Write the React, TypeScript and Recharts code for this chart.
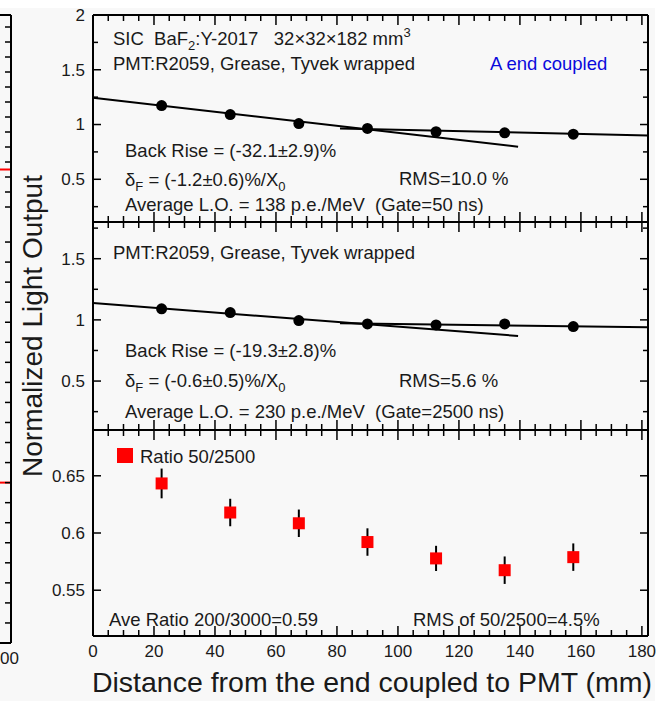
import { ComposedChart, ErrorBar, Line, Scatter, XAxis, YAxis } from "recharts"

// distances from the PMT end (mm)
const positions = [22.5, 45, 67.5, 90, 112.5, 135, 157.5]

// gate 50 ns, normalized light output
const lo50 = [1.173, 1.091, 1.009, 0.964, 0.934, 0.924, 0.912]
// gate 2500 ns
const lo2500 = [1.09, 1.06, 0.994, 0.967, 0.959, 0.967, 0.945]
// ratio 50/2500 and its errors
const ratio = [0.6433, 0.6179, 0.6085, 0.5921, 0.5778, 0.5675, 0.5789]
const ratioErr = [0.013, 0.012, 0.012, 0.012, 0.011, 0.012, 0.012]

// linear fits: front part and back part
const frontFitX = [0, 139.4]
const backFitX = [81, 182]
const front50 = [1.245, 0.797]
const back50 = [0.964, 0.9]
const front2500 = [1.137, 0.869]
const back2500 = [0.973, 0.94]

const xMajor = [0, 20, 40, 60, 80, 100, 120, 140, 160, 180]
const xMinor = [5, 10, 15, 25, 30, 35, 45, 50, 55, 65, 70, 75, 85, 90, 95, 105, 110, 115, 125, 130, 135, 145, 150, 155, 165, 170, 175]
const loMajor = [0.5, 1, 1.5, 2]
const loMinor = [0.25, 0.75, 1.25, 1.75]
const ratioMajor = [0.55, 0.6, 0.65]

// cut-off neighbour chart on the left edge
const fragTopTicks = [0.1, 0.2, 0.3, 0.4, 0.5, 0.6, 0.7, 0.8, 0.9, 1.0, 1.1, 1.2, 1.3]
const fragBottomTicks = [0.1, 0.2, 0.3, 0.4, 0.5, 0.6, 0.7, 0.8, 0.9, 1.0, 1.1, 1.2, 1.3, 1.4, 1.5, 1.6, 1.7, 1.8, 1.9, 2.0]

const pts = (ys: number[]) => positions.map((x, i) => ({ x, y: ys[i] }))
const fit = (xs: number[], ys: number[]) => xs.map((x, i) => ({ x, y: ys[i] }))
const ratioPts = positions.map((x, i) => ({ x, y: ratio[i], err: ratioErr[i] }))

const FONT = "'Liberation Sans', Arial, sans-serif"
const INK = "#1a1a1a"
const X_DOMAIN: [number, number] = [0, 182]
const PLOT_W = 555
const AXIS = { stroke: "#000", strokeWidth: 2 }
const TICK = { stroke: "#000", strokeWidth: 1.5 }

const near = (list: number[], v: number) => list.some((m) => Math.abs(m - v) < 1e-6)

type PanelProps = {
  top: number
  height: number
  domain: [number, number]
  yMajor: number[]
  yMinor: number[]
  xLabels: boolean
  data: any[]
  children: any
}

function Panel({ top, height, domain, yMajor, yMinor, xLabels, data, children }: PanelProps) {
  // bottom axis tick: draws the inward tick at the bottom and the matching one at the top edge
  const xTick = (p: any) => {
    const v = p.payload.value
    const major = near(xMajor, v)
    const len = major ? 10 : 6
    return (
      <g>
        <line x1={p.x} x2={p.x} y1={p.y} y2={p.y - len} {...TICK} />
        <line x1={p.x} x2={p.x} y1={p.y - height} y2={p.y - height + len} {...TICK} />
        {xLabels && major && (
          <text x={p.x} y={p.y + 21} textAnchor="middle" fontSize={17} fill={INK} fontFamily={FONT}>
            {v}
          </text>
        )}
      </g>
    )
  }
  // left axis tick: inward tick on the left edge and the matching one on the right edge
  const yTick = (p: any) => {
    const v = p.payload.value
    const major = near(yMajor, v)
    const len = major ? 8 : 5
    return (
      <g>
        <line x1={p.x} x2={p.x + len} y1={p.y} y2={p.y} {...TICK} />
        <line x1={p.x + PLOT_W} x2={p.x + PLOT_W - len} y1={p.y} y2={p.y} {...TICK} />
        {major && (
          <text x={p.x - 8} y={p.y} dy="0.35em" textAnchor="end" fontSize={17} fill={INK} fontFamily={FONT}>
            {v}
          </text>
        )}
      </g>
    )
  }
  return (
    <div style={{ position: "absolute", left: 0, top: top - 10 }}>
      <ComposedChart width={660} height={height + 40} data={data} margin={{ top: 10, right: 12, bottom: 0, left: 0 }}>
        <XAxis
          dataKey="x"
          type="number"
          domain={X_DOMAIN}
          ticks={[...xMajor, ...xMinor]}
          interval={0}
          height={30}
          tickSize={0}
          tickMargin={0}
          tickLine={false}
          axisLine={AXIS}
          tick={xTick}
        />
        <XAxis xAxisId="t" orientation="top" mirror type="number" domain={X_DOMAIN} height={1}
          tick={false} tickLine={false} axisLine={AXIS} />
        <YAxis
          dataKey="y"
          type="number"
          domain={domain}
          ticks={[...yMajor, ...yMinor]}
          interval={0}
          width={93}
          tickSize={0}
          tickMargin={0}
          tickLine={false}
          axisLine={AXIS}
          tick={yTick}
        />
        <YAxis yAxisId="r" orientation="right" mirror type="number" domain={domain} width={1}
          tick={false} tickLine={false} axisLine={AXIS} />
        {children}
      </ComposedChart>
    </div>
  )
}

type FragProps = { top: number; height: number; domain: [number, number]; ticks: number[]; red: number; edge: number }

const fragTick = (p: any) => <line x1={p.x} x2={p.x - 6} y1={p.y} y2={p.y} {...TICK} />

function Fragment({ top, height, domain, ticks, red, edge }: FragProps) {
  const mark = [{ x: 0, y: red }, { x: 1, y: red }]
  const border = [{ x: 0, y: edge }, { x: 1, y: edge }]
  return (
    <div style={{ position: "absolute", left: 0, top: top - 1 }}>
      <ComposedChart width={12} height={height + 2} data={mark} margin={{ top: 1, right: 0, bottom: 1, left: 0 }}>
        <XAxis dataKey="x" type="number" domain={[0, 1]} hide />
        <YAxis
          dataKey="y"
          orientation="right"
          type="number"
          domain={domain}
          ticks={ticks}
          interval={0}
          width={1}
          tickSize={0}
          tickMargin={0}
          tickLine={false}
          axisLine={AXIS}
          tick={fragTick}
        />
        <Line dataKey="y" stroke="#ff0000" strokeWidth={2} dot={false} isAnimationActive={false} />
        <Line data={border} dataKey="y" stroke="#000" strokeWidth={2} dot={false} isAnimationActive={false} />
      </ComposedChart>
    </div>
  )
}

const Dot = (p: any) => <circle cx={p.cx} cy={p.cy} r={5.5} fill="#000" />
const Square = (p: any) => <rect x={p.cx - 6} y={p.cy - 6} width={12} height={12} fill="#ff0000" />

const fitLine = (data: { x: number; y: number }[], key: string) => (
  <Line key={key} data={data} dataKey="y" stroke="#000" strokeWidth={2} dot={false} isAnimationActive={false} />
)

function Texts() {
  const t = { fontFamily: FONT, fontSize: 18.5, fill: INK, style: { whiteSpace: "pre" as const } }
  return (
    <svg width={660} height={701} style={{ position: "absolute", left: 0, top: 0, pointerEvents: "none" }}>
      {/* panel 1 */}
      <text x={113} y={45} {...t}>
        {"SIC  BaF"}
        <tspan dy={5} fontSize={13}>2</tspan>
        <tspan dy={-5}>{":Y-2017   32×32×182 mm"}</tspan>
        <tspan dy={-8} fontSize={13}>3</tspan>
      </text>
      <text x={113} y={70} {...t}>PMT:R2059, Grease, Tyvek wrapped</text>
      <text x={490} y={70} {...t} fill="#0a0adc">A end coupled</text>
      <text x={125} y={157} {...t}>Back Rise = (-32.1±2.9)%</text>
      <text x={125} y={186} {...t}>
        δ<tspan dy={5} fontSize={13}>F</tspan>
        <tspan dy={-5}>{" = (-1.2±0.6)%/X"}</tspan>
        <tspan dy={5} fontSize={13}>0</tspan>
      </text>
      <text x={399} y={185} {...t}>RMS=10.0 %</text>
      <text x={125} y={211} {...t}>{"Average L.O. = 138 p.e./MeV  (Gate=50 ns)"}</text>

      {/* panel 2 */}
      <text x={113} y={259} {...t}>PMT:R2059, Grease, Tyvek wrapped</text>
      <text x={125} y={357} {...t}>Back Rise = (-19.3±2.8)%</text>
      <text x={125} y={387} {...t}>
        δ<tspan dy={5} fontSize={13}>F</tspan>
        <tspan dy={-5}>{" = (-0.6±0.5)%/X"}</tspan>
        <tspan dy={5} fontSize={13}>0</tspan>
      </text>
      <text x={399} y={387} {...t}>RMS=5.6 %</text>
      <text x={125} y={418} {...t}>{"Average L.O. = 230 p.e./MeV  (Gate=2500 ns)"}</text>

      {/* panel 3 */}
      <rect x={117} y={448} width={16} height={15} fill="#ff0000" />
      <text x={140} y={463} {...t}>Ratio 50/2500</text>
      <text x={109} y={626} {...t}>Ave Ratio 200/3000=0.59</text>
      <text x={413} y={626} {...t}>RMS of 50/2500=4.5%</text>

      {/* axis titles */}
      <text x={372} y={692} textAnchor="middle" fontFamily={FONT} fontSize={28.5} fill={INK}>
        Distance from the end coupled to PMT (mm)
      </text>
      <text
        x={42}
        y={326}
        textAnchor="middle"
        fontFamily={FONT}
        fontSize={28}
        fill={INK}
        transform="rotate(-90 42 326)"
      >
        Normalized Light Output
      </text>
      <text x={19} y={664} textAnchor="end" fontFamily={FONT} fontSize={17} fill={INK}>200</text>
    </svg>
  )
}

export default function App() {
  return (
    <div style={{ position: "absolute", left: 0, top: 0, width: 660, height: 701, background: "#fff", overflow: "hidden" }}>
      <div style={{ position: "absolute", left: 0, top: 8, width: 655, height: 693, background: "#f8f8f8" }} />

      <Fragment top={15} height={207} domain={[0, 1.38]} ticks={fragTopTicks} red={0.35} edge={1.38} />
      <Fragment top={222} height={421} domain={[0, 2.1]} ticks={fragBottomTicks} red={0.8} edge={0} />

      <Panel top={15} height={207} domain={[0.11, 2]} yMajor={loMajor} yMinor={loMinor} xLabels={false} data={pts(lo50)}>
        {fitLine(fit(frontFitX, front50), "f50")}
        {fitLine(fit(backFitX, back50), "b50")}
        <Scatter data={pts(lo50)} shape={Dot} isAnimationActive={false} />
      </Panel>

      <Panel top={222} height={208} domain={[0.1, 1.8]} yMajor={loMajor.slice(0, 3)} yMinor={loMinor} xLabels={false} data={pts(lo2500)}>
        {fitLine(fit(frontFitX, front2500), "f2500")}
        {fitLine(fit(backFitX, back2500), "b2500")}
        <Scatter data={pts(lo2500)} shape={Dot} isAnimationActive={false} />
      </Panel>

      <Panel top={430} height={206} domain={[0.51, 0.69]} yMajor={ratioMajor} yMinor={[]} xLabels={true} data={ratioPts}>
        <Scatter data={ratioPts} shape={Square} isAnimationActive={false}>
          <ErrorBar dataKey="err" direction="y" width={0} stroke="#000" strokeWidth={2} />
        </Scatter>
      </Panel>

      <Texts />
    </div>
  )
}
